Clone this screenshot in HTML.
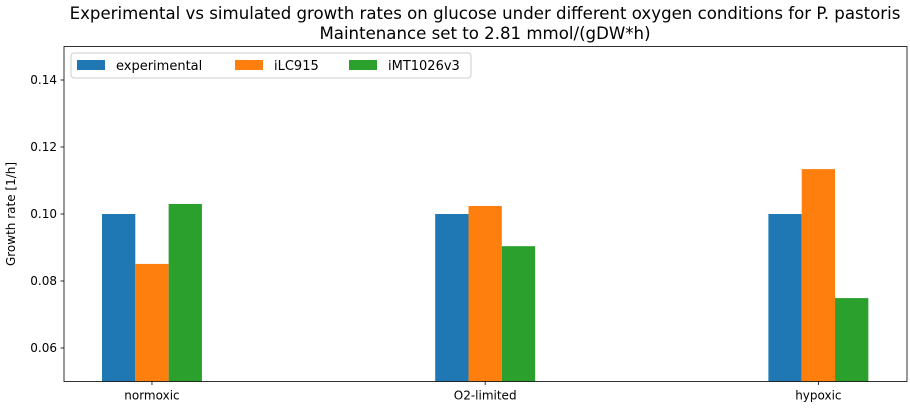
<!DOCTYPE html>
<html><head><meta charset="utf-8"><style>
body{margin:0;background:#fff;font-family:"Liberation Sans","DejaVu Sans",sans-serif;}
svg text{font-family:"DejaVu Sans","Liberation Sans",sans-serif;}
</style></head><body>
<svg id="chart" width="910" height="409" xmlns="http://www.w3.org/2000/svg">
<text x="485" y="19" text-anchor="middle" font-size="16.6">Experimental vs simulated growth rates on glucose under different oxygen conditions for P. pastoris</text>
<text x="485" y="39" text-anchor="middle" font-size="16.6">Maintenance set to 2.81 mmol/(gDW*h)</text>
<g id="bars"></g>
<g id="axes"></g>
</svg>
<script>
const categories=["normoxic","O2-limited","hypoxic"];
const seriesNames=["experimental","iLC915","iMT1026v3"];
const experimental=[0.100,0.100,0.100];
const iLC915=[0.0851,0.1024,0.1134];
const iMT1026v3=[0.103,0.0904,0.0749];
const yTicks=[0.06,0.08,0.10,0.12,0.14];
const colors=["#1f77b4","#ff7f0e","#2ca02c"];
const L=64,R=907,T=46.5,B=381.5,xmin=-0.264,xmax=2.266,ymin=0.05,ymax=0.15;
const xs=v=>L+(v-xmin)/(xmax-xmin)*(R-L);
const ys=v=>B-(v-ymin)/(ymax-ymin)*(B-T);
const NS="http://www.w3.org/2000/svg";
function mk(t,a,p){const e=document.createElementNS(NS,t);for(const k in a)e.setAttribute(k,a[k]);p.appendChild(e);return e;}
const bars=document.getElementById('bars'),axes=document.getElementById('axes');
const data=[experimental,iLC915,iMT1026v3];
const bw=0.1;
data.forEach((s,si)=>s.forEach((v,ci)=>{
 const c=ci+(si-1)*bw;
 const x0=xs(c-bw/2),x1=xs(c+bw/2),y=ys(v);
 const r=mk('rect',{x:x0,y:y,width:x1-x0,height:B-y,fill:colors[si]},bars);
 
 
}));
const frame=mk('rect',{x:L,y:T,width:R-L,height:B-T,fill:'none',stroke:'#000','stroke-width':0.8},axes);


yTicks.forEach(t=>{
 const y=ys(t);
 mk('line',{x1:L-3.5,x2:L,y1:y,y2:y,stroke:'#000','stroke-width':0.8},axes);
 const tx=mk('text',{x:L-7,y:y+4,'text-anchor':'end','font-size':12},axes);
 tx.textContent=t.toFixed(2);
 
 
});
categories.forEach((c,i)=>{
 const x=xs(i);
 mk('line',{x1:x,x2:x,y1:B,y2:B+3.5,stroke:'#000','stroke-width':0.8},axes);
 const tx=mk('text',{x:x,y:B+18,'text-anchor':'middle','font-size':12},axes);
 tx.textContent=c;
 
 
});
const yt=mk('text',{x:15,y:(T+B)/2,'text-anchor':'middle','font-size':12,transform:`rotate(-90 15 ${(T+B)/2})`},axes);
yt.textContent='Growth rate [1/h]';


const lg=mk('g',{},axes);


mk('rect',{x:71,y:53,width:400,height:25,rx:3,fill:'#fff',stroke:'#ccc','stroke-width':1},lg);
const lx=[77,235,349];
seriesNames.forEach((n,i)=>{
 const g=mk('g',{},lg);
 
 
 mk('rect',{x:lx[i],y:60,width:28,height:10,fill:colors[i]},g);
 const t=mk('text',{x:lx[i]+39,y:70,'font-size':13},g);
 t.textContent=n;
});
</script>
</body></html>
